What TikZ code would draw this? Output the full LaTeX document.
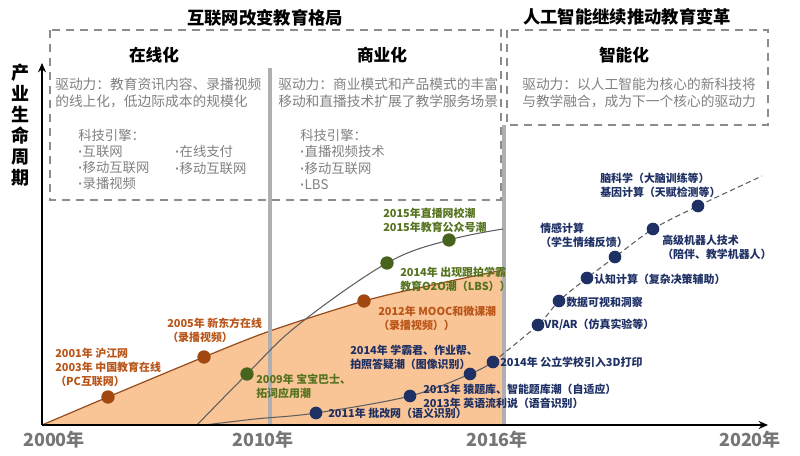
\documentclass[tikz,border=0pt]{standalone}
\usepackage{fontspec}
\setmainfont{Noto Sans CJK SC}
\newfontfamily\latinf{Liberation Sans}
\newcommand\bul{{\latinf\bfseries ·}}
\usetikzlibrary{arrows.meta}
\definecolor{dashgray}{RGB}{140,140,140}
\definecolor{drivegray}{RGB}{128,128,128}
\definecolor{vgray}{RGB}{175,175,178}
\definecolor{orfill}{RGB}{249,196,150}
\definecolor{brownline}{RGB}{150,75,25}
\definecolor{dotbrown}{RGB}{160,72,15}
\definecolor{labbrown}{RGB}{185,85,25}
\definecolor{dotgreen}{RGB}{70,100,30}
\definecolor{labgreen}{RGB}{85,115,30}
\definecolor{navy}{RGB}{30,48,100}
\definecolor{yeargray}{RGB}{118,118,118}
\definecolor{curvegray}{RGB}{95,95,95}
\tikzset{
  gbox/.style={draw=dashgray, line width=2pt, dash pattern=on 6pt off 4.5pt},
  vline/.style={draw=vgray, line width=2.3pt},
  axisline/.style={draw=black, line width=1.6pt, -{Stealth[length=7pt,width=6pt]}},
  titletext/.style={font=\fontsize{13}{15}\selectfont\bfseries, inner sep=0},
  headtext/.style={font=\fontsize{12.5}{15}\selectfont\bfseries, inner sep=0},
  drive/.style={text=drivegray, font=\fontsize{10.3}{12.75}\selectfont, align=left, anchor=west, inner sep=0},
  tech/.style={text=drivegray, font=\fontsize{10}{12.2}\selectfont, align=left, anchor=west, inner sep=0},
  lab/.style={font=\fontsize{8.2}{10.5}\selectfont\bfseries, align=left, anchor=west, inner sep=0},
  blab/.style={lab, text=labbrown},
  glab/.style={lab, text=labgreen},
  nlab/.style={lab, text=navy},
  yearlab/.style={text=yeargray, font=\fontsize{13.5}{15}\selectfont\bfseries, inner sep=0},
  bdot/.style={circle, fill=dotbrown, minimum size=10pt, inner sep=0},
  gdot/.style={circle, fill=dotgreen, minimum size=10pt, inner sep=0},
  ndot/.style={circle, fill=navy, minimum size=9.5pt, inner sep=0},
}
\begin{document}
\begin{tikzpicture}[x=0.75pt,y=-0.75pt]
\useasboundingbox (0,0) rectangle (800,456);

% key coordinates
\coordinate (org) at (42,425);
\coordinate (ytop) at (42,63);
\coordinate (xend) at (768,425);
\coordinate (p2001) at (108,397);
\coordinate (p2005) at (204,357);
\coordinate (pm) at (270,331);
\coordinate (p2012) at (364,301);
\coordinate (pq) at (432,285);
\coordinate (pr) at (503,270);
\coordinate (pb) at (503,425);

\coordinate (g0) at (197,425);
\coordinate (g2009) at (247,374);
\coordinate (gm) at (298,325);
\coordinate (g2014) at (387,263);
\coordinate (g2015) at (449,240);
\coordinate (gend) at (503,229);

\coordinate (n0) at (205,425);
\coordinate (nm) at (255,419);
\coordinate (n2011) at (316,413);
\coordinate (n2013) at (410,396);
\coordinate (n2014a) at (470,374);
\coordinate (n2014b) at (493,362);
\coordinate (nvr) at (538,325);
\coordinate (ndata) at (559,301);
\coordinate (ncog) at (587,278);
\coordinate (nemo) at (615,257);
\coordinate (nrob) at (653,229);
\coordinate (ngene) at (698,206);
\coordinate (nend) at (762,176);

% orange area
\fill[orfill] plot[smooth, tension=0.5] coordinates {(org) (p2001) (p2005) (pm) (p2012) (pq) (pr)} -- (pb) -- cycle;
\draw[brownline, line width=0.9pt] plot[smooth, tension=0.5] coordinates {(org) (p2001) (p2005) (pm) (p2012) (pq) (pr)};

% gray separators
\coordinate (v1t) at (270,68);
\coordinate (v1b) at (270,424);
\coordinate (v2t) at (504,125);
\coordinate (v2b) at (504,424);
\draw[vline] (v1t) -- (v1b);
\draw[vline, line width=3pt] (v2t) -- (v2b);

% dashed boxes
\coordinate (b1a) at (50,30);
\coordinate (b1b) at (501,200);
\coordinate (b2a) at (507,30);
\coordinate (b2b) at (768,125);
\draw[gbox] (b1a) rectangle (b1b);
\draw[gbox] (b2a) rectangle (b2b);

% curves
\draw[curvegray, line width=0.8pt] plot[smooth, tension=0.6] coordinates {(g0) (g2009) (gm) (g2014) (g2015) (gend)};
\draw[curvegray, line width=0.8pt] plot[smooth, tension=0.6] coordinates {(n0) (nm) (n2011) (n2013) (n2014a) (n2014b)};
\draw[curvegray, line width=0.8pt, dash pattern=on 4pt off 2.5pt] plot[smooth, tension=0.5] coordinates {(n2014b) (nvr) (ndata) (ncog) (nemo) (nrob) (ngene) (nend)};

% axes
\draw[axisline] (org) -- (ytop);
\draw[axisline] (org) -- (xend);

% titles
\node[titletext] (t1) at (265,18) {互联网改变教育格局};
\node[titletext] (t2) at (627,17) {人工智能继续推动教育变革};
\node[headtext] (h1) at (154,55) {在线化};
\node[headtext] (h2) at (382,55) {商业化};
\node[headtext] (h3) at (624,55) {智能化};

% drive texts
\node[drive] (d1) at (55,92.5) {驱动力：教育资讯内容、录播视频\\的线上化，低边际成本的规模化};
\node[drive] (d2) at (278,92.5) {驱动力：商业模式和产品模式的丰富\\移动和直播技术扩展了教学服务场景};
\node[drive] (d3) at (522,92.5) {驱动力：以人工智能为核心的新科技将\\与教学融合，成为下一个核心的驱动力};

\node[tech] (k1) at (78,159.5) {科技引擎：\\\bul 互联网\\\bul 移动互联网\\\bul 录播视频};
\node[tech] (k2) at (175,160) {\bul 在线支付\\\bul 移动互联网};
\node[tech] (k3) at (300,159.5) {科技引擎：\\\bul 直播视频技术\\\bul 移动互联网\\\bul LBS};

% y label
\node[font=\fontsize{13.5}{15.75}\selectfont\bfseries, align=center, inner sep=0] (ylab) at (21,125.5) {产\\业\\生\\命\\周\\期};

% year labels
\node[yearlab] (y2000) at (54,440) {2000年};
\node[yearlab] (y2010) at (263,440) {2010年};
\node[yearlab] (y2016) at (497,440) {2016年};
\node[yearlab] (y2020) at (750,440) {2020年};

% dots
\node[bdot] (D2001) at (p2001) {};
\node[bdot] (D2005) at (p2005) {};
\node[bdot] (D2012) at (p2012) {};
\node[gdot] (G2009) at (g2009) {};
\node[gdot] (G2014) at (g2014) {};
\node[gdot] (G2015) at (g2015) {};
\node[ndot] (N2011) at (n2011) {};
\node[ndot] (N2013) at (n2013) {};
\node[ndot] (N2014a) at (n2014a) {};
\node[ndot] (N2014b) at (n2014b) {};
\node[ndot] (Nvr) at (nvr) {};
\node[ndot] (Ndata) at (ndata) {};
\node[ndot] (Ncog) at (ncog) {};
\node[ndot] (Nemo) at (nemo) {};
\node[ndot] (Nrob) at (nrob) {};
\node[ndot] (Ngene) at (ngene) {};

% labels
\node[blab] (L2001) at (55,367.5) {2001年 沪江网\\2003年 中国教育在线\\（PC互联网）};
\node[blab] (L2005) at (167,330) {2005年 新东方在线\\（录播视频）};
\node[blab] (L2012) at (378,318) {2012年 MOOC和微课潮\\（录播视频））};
\node[glab] (L2015) at (383,220) {2015年直播网校潮\\2015年教育公众号潮};
\node[glab] (L2014g) at (400,279) {2014年 出现跟拍学霸\\教育O2O潮（LBS））};
\node[glab] (L2009) at (256,386) {2009年 宝宝巴士、\\拓词应用潮};
\node[nlab] (L2011) at (328,413) {2011年 批改网（语义识别）};
\node[nlab] (L2013) at (423,396) {2013年 猿题库、智能题库潮（自适应）\\2013年 英语流利说（语音识别）};
\node[nlab] (L2014a) at (350,357.5) {2014年 学霸君、作业帮、\\拍照答疑潮（图像识别）};
\node[nlab] (L2014b) at (500,362) {2014年 公立学校引入3D打印};
\node[nlab] (Lvr) at (544,325) {VR/AR（仿真实验等）};
\node[nlab] (Ldata) at (566,302) {数据可视和洞察};
\node[nlab] (Lcog) at (594,279) {认知计算（复杂决策辅助）};
\node[nlab] (Lemo) at (540,235) {情感计算\\（学生情绪反馈）};
\node[nlab] (Lrob) at (662,247) {高级机器人技术\\（陪伴、教学机器人）};
\node[nlab] (Lbrain) at (600,185.5) {脑科学（大脑训练等）\\基因计算（天赋检测等）};
\end{tikzpicture}
\end{document}
